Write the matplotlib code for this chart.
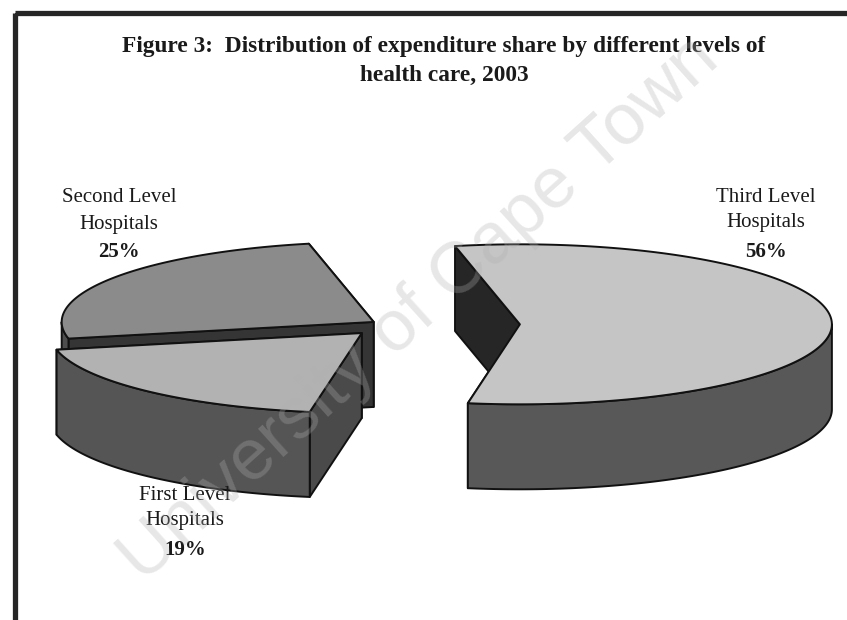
"""Figure 3: exploded 3-D pie of expenditure share by level of health care, 2003."""

import matplotlib

matplotlib.use("Agg")
import matplotlib.pyplot as plt
import numpy as np
from matplotlib.patches import Polygon, Rectangle

# data (drawing order: back-left, front-left, right)
levels = ["Second Level\nHospitals", "First Level\nHospitals", "Third Level\nHospitals"]
shares = [25, 19, 56]
explode = [0.07, 0.14, 0.41]

top_cols = ["#8b8b8b", "#b2b2b2", "#c5c5c5"]
side_cols = ["#4d4d4d", "#555555", "#585858"]
cut_cols = ["#353535", "#4a4a4a", "#262626"]

# pie geometry in pixel units
START = 102.0
CX, CY = 392, 325
R, RY, DEPTH = 312, 80, 85
SERIF = ["Liberation Serif", "DejaVu Serif"]

fig = plt.figure(figsize=(8.47, 6.2), dpi=100)
ax = fig.add_axes([0, 0, 1, 1])
ax.set_xlim(0, 847)
ax.set_ylim(620, 0)
ax.axis("off")


def pt(cx, cy, t):
    return cx + R * np.cos(t), cy - RY * np.sin(t)


def draw_slice(i, t1, t2):
    mid = np.radians((t1 + t2) / 2)
    cx = CX + explode[i] * R * np.cos(mid)
    cy = CY - explode[i] * RY * np.sin(mid)
    a1, a2 = np.radians(t1), np.radians(t2)
    ts = np.linspace(a1, a2, 300)
    extra = [k * np.pi for k in range(1, 6) if a1 < k * np.pi < a2]
    ts = np.sort(np.concatenate([ts, extra]))
    kw = dict(edgecolor="#111111", lw=1.4, joinstyle="round")
    # radial cut faces
    for a in (a1, a2):
        ex, ey = pt(cx, cy, a)
        quad = [(cx, cy), (ex, ey), (ex, ey + DEPTH), (cx, cy + DEPTH)]
        ax.add_patch(Polygon(quad, closed=True, facecolor=cut_cols[i], **kw))
    # outer wall (front half only)
    idx = np.where(np.sin(ts) <= 1e-9)[0]
    if len(idx):
        for run in np.split(idx, np.where(np.diff(idx) > 1)[0] + 1):
            xs, ys = pt(cx, cy, ts[run])
            poly = list(zip(xs, ys)) + list(zip(xs[::-1], ys[::-1] + DEPTH))
            ax.add_patch(Polygon(poly, closed=True, facecolor=side_cols[i], **kw))
    # top face
    xs, ys = pt(cx, cy, ts)
    poly = [(cx, cy)] + list(zip(xs, ys))
    ax.add_patch(Polygon(poly, closed=True, facecolor=top_cols[i], **kw))


bounds = START + 360 * np.concatenate([[0], np.cumsum(shares) / np.sum(shares)])
for i in range(len(shares)):
    draw_slice(i, bounds[i], bounds[i + 1])

# labels
lab_pos = [(119, 211, 252), (185, 508, 550), (766, 210, 252)]
for (x, yn, yp), name, s in zip(lab_pos, levels, shares):
    ax.text(x, yn, name, ha="center", va="center", fontsize=15,
            family=SERIF, linespacing=1.5, color="#1a1a1a")
    ax.text(x, yp, f"{s}%", ha="center", va="center", fontsize=15,
            family=SERIF, fontweight="bold", color="#1a1a1a")

ax.text(444, 61,
        "Figure 3:  Distribution of expenditure share by different levels of\nhealth care, 2003",
        ha="center", va="center", fontsize=16.8, family=SERIF, fontweight="bold",
        linespacing=1.55, color="#1a1a1a")

# frame (right and bottom edges fall outside the scan)
ax.add_patch(Rectangle((14.5, 13), 900, 700, fill=False, lw=3.8,
                       edgecolor="#262626", clip_on=False))

# scanned-thesis watermark
ax.text(420, 310, "University of Cape Town", ha="center", va="center",
        rotation=42, fontsize=52, family=["Liberation Sans", "DejaVu Sans"],
        color="#b0b0b0", alpha=0.3, zorder=10)

fig.savefig("out.png", dpi=100)
